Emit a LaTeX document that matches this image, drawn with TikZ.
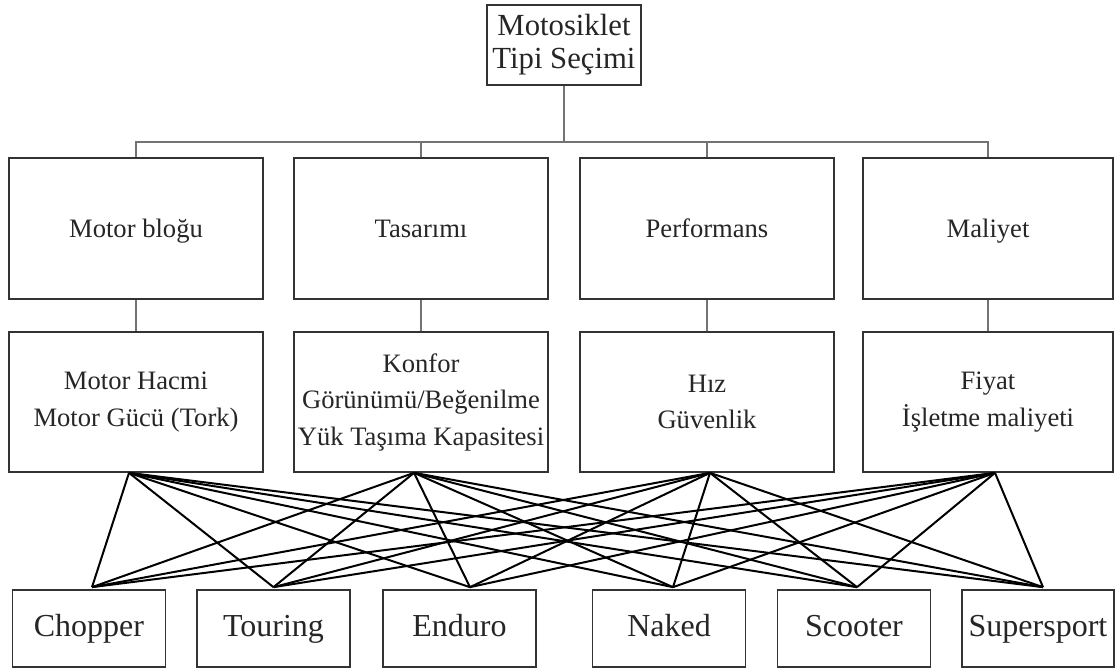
\documentclass[tikz,border=0pt]{standalone}
\usepackage{fontspec}
\setmainfont{Liberation Serif}
\begin{document}
\begin{tikzpicture}[x=1pt,y=-1pt,
  box/.style={draw=black!80, line width=1.7pt, fill=white, align=center, inner sep=0pt, text=black!85},
  topbox/.style={box, minimum width=154pt, minimum height=80pt, font=\fontsize{30.7}{33}\selectfont},
  crit/.style={box, minimum width=254pt, minimum height=141pt, font=\fontsize{26.6}{36.5}\selectfont, text height=18.6pt, text depth=0pt},
  sub/.style={box, minimum width=254pt, minimum height=140pt, font=\fontsize{26.6}{36.5}\selectfont},
  alt/.style={box, minimum width=153pt, minimum height=77pt, font=\fontsize{32}{36}\selectfont, text height=22.4pt, text depth=5.5pt},
  tree/.style={draw=black!55, line width=1.2pt},
  link/.style={draw=black, line width=2pt}]
\useasboundingbox (0,0) rectangle (1115,669);

\node[topbox] (top) at (564,45) {Motosiklet\\Tipi Seçimi};

\node[crit] (a1) at (136,228.5) {Motor bloğu};
\node[crit] (a2) at (421,228.5) {Tasarımı};
\node[crit] (a3) at (707,228.5) {Performans};
\node[crit, minimum width=250pt] (a4) at (988,228.5) {Maliyet};

\node[sub] (b1) at (136,402) {Motor Hacmi\\Motor Gücü (Tork)};
\node[sub] (b2) at (421,402) {Konfor\\Görünümü/Beğenilme\\Yük Taşıma Kapasitesi};
\node[sub] (b3) at (707,402) {Hız\\Güvenlik};
\node[sub, minimum width=250pt] (b4) at (988,402) {Fiyat\\İşletme maliyeti};

\node[alt] (c1) at (89,628.5) {Chopper};
\node[alt] (c2) at (273.5,628.5) {Touring};
\node[alt] (c3) at (459.5,628.5) {Enduro};
\node[alt] (c4) at (669,628.5) {Naked};
\node[alt] (c5) at (854,628.5) {Scooter};
\node[alt, minimum width=152pt] (c6) at (1038,628.5) {Supersport};

% tree lines
\coordinate (hub) at (564,142);
\draw[tree] (top.south) -- (hub);
\draw[tree] (a1.north) -- (a1.north |- hub) -- (a4.north |- hub) -- (a4.north);
\draw[tree] (a2.north) -- (a2.north |- hub);
\draw[tree] (a3.north) -- (a3.north |- hub);
\foreach \i in {1,2,3,4} \draw[tree] (a\i.south) -- (b\i.north);

% connector end points
\coordinate (u1) at ([xshift=-7pt]b1.south);
\coordinate (u2) at ([xshift=-7pt]b2.south);
\coordinate (u3) at ([xshift=3pt]b3.south);
\coordinate (u4) at ([xshift=7pt]b4.south);
\coordinate (d1) at ([xshift=3pt,yshift=2pt]c1.north);
\coordinate (d2) at ([xshift=0pt,yshift=2pt]c2.north);
\coordinate (d3) at ([xshift=10.5pt,yshift=2pt]c3.north);
\coordinate (d4) at ([xshift=4pt,yshift=2pt]c4.north);
\coordinate (d5) at ([xshift=3pt,yshift=2pt]c5.north);
\coordinate (d6) at ([xshift=5pt,yshift=2pt]c6.north);

\foreach \u in {u1,u2,u3,u4}
  \foreach \d in {d1,d2,d3,d4,d5,d6}
    \draw[link] (\u) -- (\d);
\end{tikzpicture}
\end{document}
